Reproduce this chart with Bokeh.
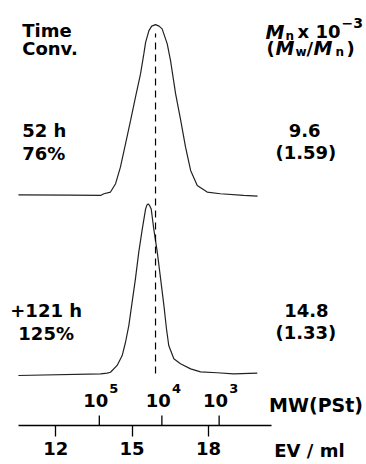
import numpy as np
from bokeh.plotting import figure
from bokeh.models import Range1d, LinearAxis, FixedTicker
from bokeh.core.properties import value
from bokeh.embed import file_html
from bokeh.resources import INLINE

# ---- data (elution volume in ml, normalized RI intensity) ----
ev_52h = [10.53, 12.58, 13.76, 13.89, 14.15, 14.35, 14.54, 14.74, 14.94, 15.13,
          15.33, 15.46, 15.53, 15.66, 15.77, 15.92, 16.06, 16.18, 16.38, 16.51,
          16.71, 16.91, 17.10, 17.30, 17.56, 17.95, 18.47, 19.38, 19.93]
sig_52h = [0.002, 0.0, -0.002, 0.008, 0.018, 0.067, 0.164, 0.301, 0.438, 0.574,
           0.711, 0.828, 0.896, 0.965, 0.991, 1.0, 0.991, 0.975, 0.887, 0.789,
           0.594, 0.438, 0.281, 0.145, 0.057, 0.018, 0.008, -0.002, -0.006]

ev_121h = [10.53, 13.76, 14.02, 14.15, 14.41, 14.61, 14.74, 14.87, 15.00, 15.13,
           15.26, 15.40, 15.53, 15.58, 15.63, 15.68, 15.75, 15.85, 15.99, 16.12,
           16.25, 16.35, 16.44, 16.64, 16.90, 17.30, 17.69, 18.34, 18.99, 19.92]
sig_121h = [-0.006, 0.004, 0.008, 0.013, 0.053, 0.111, 0.189, 0.287, 0.424, 0.561,
            0.716, 0.854, 0.971, 0.993, 1.0, 0.993, 0.971, 0.854, 0.716, 0.561,
            0.404, 0.268, 0.170, 0.092, 0.063, 0.033, 0.015, 0.010, 0.004, 0.008]

trace_offsets = [1.052, 0.0]

ev_ticks = [12, 15, 18]
mw_tick_ev = [13.71, 16.17, 18.42]
mw_exponents = ["5", "4", "3"]

time_labels = ["52 h", "+121 h"]
conv_labels = ["76%", "125%"]
mn_labels = ["9.6", "14.8"]
pdi_labels = ["(1.59)", "(1.33)"]

FONT = value("DejaVu Sans")
AXIS_Y = -0.299

p = figure(width=366, height=464, output_backend="svg", toolbar_location=None,
           x_axis_type=None, y_axis_type=None,
           x_range=Range1d(9.826, 24.213), y_range=Range1d(-0.528, 2.1935),
           min_border=0, outline_line_color=None, background_fill_color="white")

# traces
p.line(ev_52h, [trace_offsets[0] + s for s in sig_52h], line_color="#222222", line_width=1.2)
p.line(ev_121h, [trace_offsets[1] + s for s in sig_121h], line_color="#222222", line_width=1.2)

# dashed reference at 52 h peak
peak_ev = ev_52h[int(np.argmax(sig_52h))]
p.segment(x0=[peak_ev], y0=[0.006], x1=[peak_ev], y1=[2.0], line_color="black",
          line_width=1.2, line_dash="7 5")

# EV axis
ax = LinearAxis(ticker=FixedTicker(ticks=ev_ticks), bounds=(10.53, 20.48),
                fixed_location=AXIS_Y)
ax.major_tick_out = 11
ax.major_tick_in = 0
ax.minor_tick_out = 0
ax.minor_tick_in = 0
ax.axis_line_width = 1.3
ax.major_tick_line_width = 1.3
ax.major_label_text_font = "DejaVu Sans"
ax.major_label_text_font_style = "bold"
ax.major_label_text_font_size = "18px"
ax.major_label_text_color = "black"
ax.major_label_standoff = 6
p.add_layout(ax, "below")

# MW ticks (upward from the axis line)
p.segment(x0=mw_tick_ev, y0=[AXIS_Y] * 3, x1=mw_tick_ev, y1=[AXIS_Y + 0.0587] * 3,
          line_color="black", line_width=1.3)
p.text(x=mw_tick_ev, y=[-0.150] * 3, text=["10"] * 3, text_font=FONT,
       text_font_style="bold", text_font_size="18px", text_align="right",
       text_baseline="alphabetic", x_offset=9)
p.text(x=mw_tick_ev, y=[-0.150] * 3, text=mw_exponents, text_font=FONT,
       text_font_style="bold", text_font_size="13px", text_align="left",
       text_baseline="alphabetic", x_offset=10, y_offset=-12)

def txt(x, y, s, align="left", size="18px"):
    p.text(x=[x], y=[y], text=[s], text_font=FONT, text_font_style="bold",
           text_font_size=size, text_align=align, text_baseline="alphabetic",
           text_color="black")

txt(22.23, -0.180, "MW(PSt)", align="center", size="19px")
txt(21.97, -0.446, "EV / ml", align="center")

# left column
txt(10.68, 2.019, "Time")
txt(10.68, 1.912, "Conv.")
txt(10.68, 1.429, time_labels[0])
txt(10.68, 1.296, conv_labels[0])
txt(11.62, 0.377, time_labels[1], align="center")
txt(11.62, 0.240, conv_labels[1], align="center")

# right column
txt(21.78, 1.429, mn_labels[0], align="center")
txt(21.83, 1.302, pdi_labels[0], align="center")
txt(21.85, 0.377, mn_labels[1], align="center")
txt(21.83, 0.246, pdi_labels[1], align="center")

def pieces(x, y, items):
    for s, dx, dy, size, style in items:
        p.text(x=[x], y=[y], text=[s], text_font=FONT, text_font_style=style,
               text_font_size=size, text_align="left", text_baseline="alphabetic",
               x_offset=dx, y_offset=dy, text_color="black")

pieces(20.243, 2.010, [("M", 0, 0, "19px", "bold italic"),
                       ("n", 20, 4, "12px", "bold"),
                       ("x", 32, 0, "18px", "bold"),
                       ("10", 50, 0, "18px", "bold"),
                       ("\u22123", 76, -9, "14px", "bold")])
pieces(20.282, 1.912, [("(", 0, 0, "18px", "bold"),
                       ("M", 9, 0, "19px", "bold italic"),
                       ("w", 29, 4, "12px", "bold"),
                       ("/", 40, 0, "18px", "bold"),
                       ("M", 47, 0, "19px", "bold italic"),
                       ("n", 69, 4, "12px", "bold"),
                       (")", 80, 0, "18px", "bold")])

open("out.html", "w").write(file_html(p, INLINE))
